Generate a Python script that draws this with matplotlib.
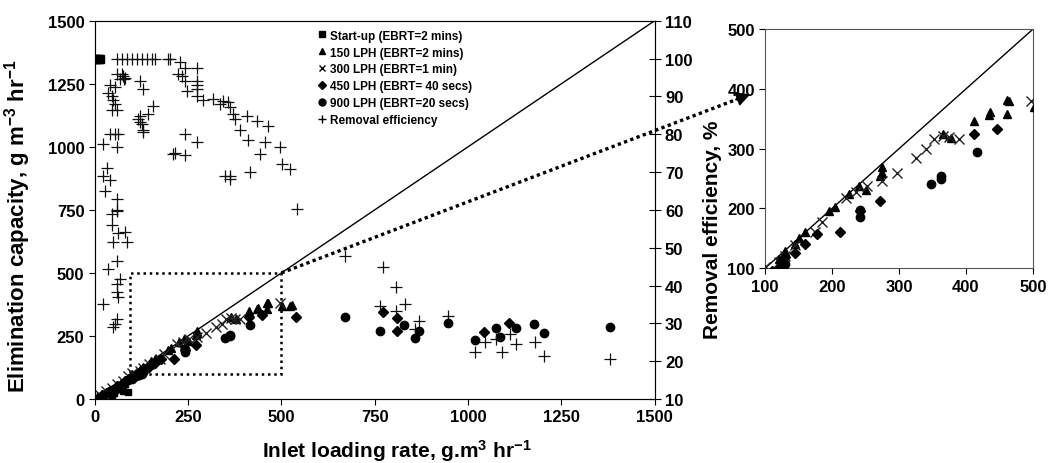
import matplotlib
matplotlib.use("Agg")
import matplotlib.pyplot as plt
from matplotlib.patches import Rectangle
from matplotlib.lines import Line2D

plt.rcParams['font.family'] = ['Liberation Sans Narrow', 'Liberation Sans', 'DejaVu Sans']
plt.rcParams['font.weight'] = 'bold'
plt.rcParams['mathtext.default'] = 'regular'

# Data: (inlet loading rate, elimination capacity)
startup_x = [0, 5, 10, 15, 20, 25, 35, 45, 50, 55, 60, 65, 70, 75, 80, 90]
startup_ec = [0, 3, 5, 10, 8, 15, 20, 5, 25, 35, 40, 55, 50, 30, 60, 28]
startup_top_x = [0, 5, 10, 15]
startup_top_ec = [1350, 1350, 1350, 1350]

lph150_x = [20, 30, 40, 50, 60, 70, 80, 90, 100, 120, 130, 145, 150, 160, 195, 205, 225, 240,
            250, 272, 275, 275, 365, 377, 412, 434, 436, 461, 462, 465, 501, 522, 528]
lph150_ec = [18, 28, 35, 45, 55, 65, 75, 85, 98, 115, 128, 140, 150, 160, 196, 202, 224, 238,
             230, 255, 260, 269, 325, 318, 347, 357, 362, 381, 358, 380, 369, 369, 373]

lph300_x = [15, 30, 45, 60, 75, 90, 100, 120, 130, 145, 175, 185, 220, 235, 252, 275, 297,
            325, 340, 352, 365, 375, 390, 497]
lph300_ec = [14, 30, 44, 58, 72, 90, 102, 110, 121, 138, 160, 177, 217, 227, 238, 246, 260,
             285, 299, 316, 321, 319, 316, 379]

lph450_x = [20, 40, 60, 80, 95, 110, 125, 130, 145, 160, 177, 212, 242, 272, 412, 447, 538,
            772, 809, 809, 1042, 1109]
lph450_ec = [15, 32, 50, 70, 85, 95, 110, 118, 126, 141, 157, 160, 195, 213, 325, 333, 325,
             345, 321, 270, 266, 302]

lph900_x = [10, 25, 40, 50, 60, 75, 90, 100, 110, 118, 122, 127, 130, 241, 242, 348, 363, 363,
            417, 670, 763, 828, 857, 870, 946, 1018, 1076, 1087, 1128, 1176, 1203, 1380]
lph900_ec = [5, 15, 30, 40, 45, 60, 75, 80, 90, 95, 102, 99, 107, 198, 185, 241, 250, 254,
             294, 325, 270, 294, 242, 270, 302, 234, 282, 246, 282, 298, 262, 286]

# Removal efficiency, %
re_x = [59, 72, 86, 99, 113, 126, 139, 153, 161, 196, 201,
        228, 241, 273, 222, 233, 241, 273, 273, 273, 246, 273, 290, 316, 335, 343, 357, 362,
        59, 72, 80, 67, 78, 75,
        40, 54, 35, 45, 48, 54, 45, 59,
        120, 129,
        155, 142, 120, 115, 120, 126, 129,
        40, 54, 62, 59, 21,
        241, 273, 214, 209, 241, 129,
        32, 21, 40, 27, 59, 59, 46, 59, 46, 62, 80, 48, 86, 59, 35, 67, 59, 59, 62, 21, 59, 54, 48,
        370, 375, 407, 434, 463, 388, 410, 455, 496, 442, 501, 522, 348, 362, 362, 416, 541,
        670, 772, 808, 830, 763, 808, 870, 857, 946, 1045, 1018, 1090, 1076, 1112, 1130, 1179,
        1205, 1380]
re_pct = [100, 100, 100, 100, 100, 100, 100, 100, 100, 100, 100,
          99, 97.5, 97.5, 96, 95.5, 94, 94, 93, 92, 91.5, 90, 89, 89.4, 88, 88.8, 88.6, 87.2,
          96, 96, 95, 94.5, 94.5, 95.5,
          93, 92.5, 91, 90, 89, 88, 86.5, 86.5,
          94, 92,
          87.5, 85.4, 84.9, 84, 83.3, 82.8, 81,
          80, 80, 80, 76.7, 77.5,
          80, 78, 75, 74.8, 74.6, 80.6,
          71, 69, 68, 65, 63, 60, 58.8, 59.7, 56, 54, 54.2, 51.5, 51.5, 46.5, 44.4, 41.7, 40.4,
          38.3, 37, 35.1, 31.2, 29.8, 29,
          85.4, 84, 84.9, 83.5, 82.2, 81, 78.5, 78, 76.7, 74.8, 72.2, 70.8, 69, 69, 68.2, 70, 60.3,
          47.8, 44.9, 39.6, 35.1, 34.6, 33.3, 30.6, 28.5, 32, 25, 22.4, 22.4, 25.9, 27.2, 24.6, 25,
          21.4, 20.6]

labels = ["Start-up (EBRT=2 mins)", "150 LPH (EBRT=2 mins)", "300 LPH (EBRT=1 min)",
          "450 LPH (EBRT= 40 secs)", "900 LPH (EBRT=20 secs)", "Removal efficiency"]

fig = plt.figure(figsize=(10.54, 4.64), dpi=100)
ax = fig.add_axes([0.090, 0.138, 0.531, 0.815])
ax2 = ax.twinx()
ins = fig.add_axes([0.726, 0.420, 0.254, 0.515])


def draw_points(a):
    a.plot(startup_x, startup_ec, 's', color='k', ms=5, zorder=3)
    a.plot(lph150_x, lph150_ec, '^', color='k', ms=6, zorder=3)
    a.plot(lph300_x, lph300_ec, 'x', color='#222222', ms=7, mew=1.0, zorder=3)
    a.plot(lph450_x, lph450_ec, 'D', color='k', ms=5, zorder=3)
    a.plot(lph900_x, lph900_ec, 'o', color='k', ms=6, zorder=3)


draw_points(ax)
ax.plot(startup_top_x, startup_top_ec, 's', color='k', ms=6, zorder=3)
ax.plot([0, 1500], [0, 1500], 'k-', lw=1)
ax.add_patch(Rectangle((95, 100), 405, 400, fill=False, ls=(0, (1, 1.5)), lw=1.8, color='k'))
ax.set_xlim(0, 1500)
ax.set_ylim(0, 1500)
ax.set_xticks([0, 250, 500, 750, 1000, 1250, 1500])
ax.set_yticks([0, 250, 500, 750, 1000, 1250, 1500])
ax.tick_params(labelsize=12, direction='out', length=4)
ax.set_xlabel("Inlet loading rate, g.m$^3$ hr$^{-1}$", fontsize=15, fontweight='bold')
ax.xaxis.set_label_coords(0.54, -0.1)
ax.set_ylabel("Elimination capacity, g m$^{-3}$ hr$^{-1}$", fontsize=16, fontweight='bold')
ax.yaxis.set_label_coords(-0.11, 0.46)
for s in ax.spines.values():
    s.set_color('#555555')

ax2.plot(re_x, re_pct, '+', color='#111111', ms=8, mew=0.9, zorder=3)
ax2.set_ylim(10, 110)
ax2.set_yticks(range(10, 111, 10))
ax2.tick_params(labelsize=12, direction='inout', length=8)
ax2.set_ylabel("Removal efficiency, %", fontsize=15, fontweight='bold')
ax2.yaxis.set_label_coords(1.087, 0.45)

handles = [Line2D([], [], marker='s', color='k', ls='', ms=4),
           Line2D([], [], marker='^', color='k', ls='', ms=5),
           Line2D([], [], marker='x', color='k', ls='', ms=5),
           Line2D([], [], marker='D', color='k', ls='', ms=4),
           Line2D([], [], marker='o', color='k', ls='', ms=5),
           Line2D([], [], marker='+', color='k', ls='', ms=6)]
leg = ax2.legend(handles, labels, loc='upper left', bbox_to_anchor=(0.378, 1.005), frameon=False,
                 handlelength=0.8, handletextpad=0.3, labelspacing=0.42,
                 prop={'weight': 'bold', 'size': 8.5})

# dotted connector from zoom box corner to the inset
x0, y0 = 0.090 + 0.531 * (500 / 1500), 0.138 + 0.815 * (500 / 1500)
x1, y1 = 0.712, 0.795
fig.add_artist(Line2D([x0, x1 - 0.012], [y0, y1 - 0.0104], transform=fig.transFigure,
                      color='k', lw=2.4, ls=(0, (1, 1))))
ax.annotate('', xy=(x1, y1), xycoords='figure fraction',
            xytext=(x1 - 0.014, y1 - 0.0121), textcoords='figure fraction',
            arrowprops=dict(arrowstyle='-|>', lw=1, color='k', mutation_scale=22,
                            shrinkA=0, shrinkB=0))

draw_points(ins)
ins.plot([100, 500], [100, 500], 'k-', lw=1)
ins.set_xlim(100, 500)
ins.set_ylim(100, 500)
ins.set_xticks([100, 200, 300, 400, 500])
ins.set_yticks([100, 200, 300, 400, 500])
ins.tick_params(labelsize=12, direction='out', length=4)
for s in ins.spines.values():
    s.set_color('#555555')

fig.savefig('out.png', dpi=100)
